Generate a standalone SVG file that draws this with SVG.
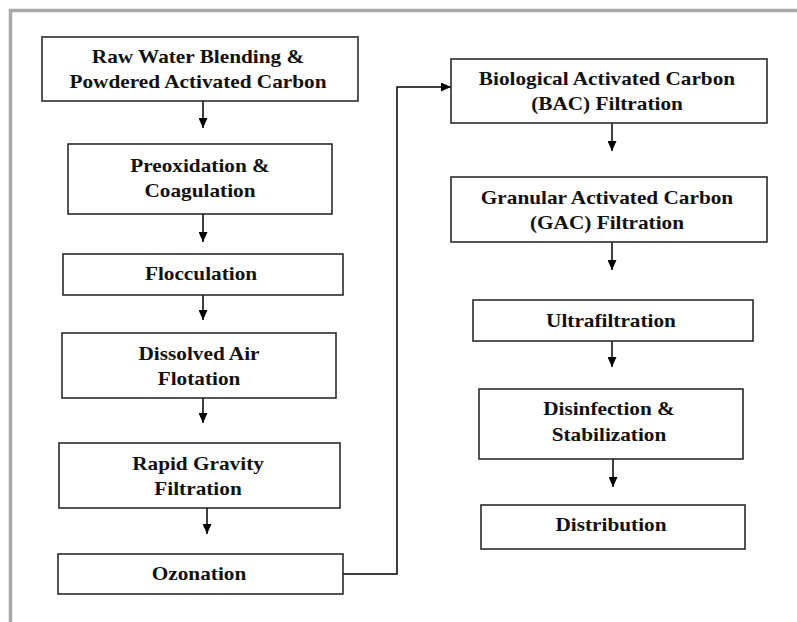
<svg xmlns="http://www.w3.org/2000/svg" width="797" height="622" viewBox="0 0 797 622">
  <style>
    .box { fill: #ffffff; stroke: #2b2b2b; stroke-width: 1.6; }
    .lbl { font-family: "Liberation Serif", "Times New Roman", serif; font-weight: bold; font-size: 18.5px; fill: #111111; text-anchor: middle; }
    .wire { fill: none; stroke: #000000; stroke-width: 1.5; }
    .frame { fill: none; stroke: #a9a9a9; stroke-width: 3.5; }
  </style>
  <defs>
    <marker id="head" markerUnits="userSpaceOnUse" markerWidth="10" markerHeight="9" refX="10" refY="4.5" orient="auto">
      <path d="M0,0 L10,4.5 L0,9 Z" fill="#000000"/>
    </marker>
  </defs>

  <rect x="0" y="0" width="797" height="622" fill="#ffffff"/>
  <!-- page frame (top and left edges) -->
  <path class="frame" d="M10.5,622 V10.5 H797"/>

  <!-- connectors -->
  <g id="connectors">
    <path class="wire" d="M203,101 V128" marker-end="url(#head)"/>
    <path class="wire" d="M203,214 V242" marker-end="url(#head)"/>
    <path class="wire" d="M203,295 V320" marker-end="url(#head)"/>
    <path class="wire" d="M203,398 V423" marker-end="url(#head)"/>
    <path class="wire" d="M207,508 V534" marker-end="url(#head)"/>
    <path class="wire" d="M343,574 H397 V87 H451" marker-end="url(#head)"/>
    <path class="wire" d="M612,123 V151" marker-end="url(#head)"/>
    <path class="wire" d="M612,242 V270" marker-end="url(#head)"/>
    <path class="wire" d="M612,341 V367" marker-end="url(#head)"/>
    <path class="wire" d="M613,459 V487" marker-end="url(#head)"/>
  </g>

  <!-- left column -->
  <g id="raw-water">
    <rect class="box" x="42" y="37" width="316" height="64"/>
    <text class="lbl" transform="translate(198,63) scale(1.15,1)">Raw Water Blending &amp;</text>
    <text class="lbl" transform="translate(198,88) scale(1.15,1)">Powdered Activated Carbon</text>
  </g>
  <g id="preoxidation">
    <rect class="box" x="68" y="144" width="264" height="70"/>
    <text class="lbl" transform="translate(200,172) scale(1.15,1)">Preoxidation &amp;</text>
    <text class="lbl" transform="translate(200,197) scale(1.15,1)">Coagulation</text>
  </g>
  <g id="flocculation">
    <rect class="box" x="63" y="254" width="280" height="41"/>
    <text class="lbl" transform="translate(201,280) scale(1.15,1)">Flocculation</text>
  </g>
  <g id="daf">
    <rect class="box" x="62" y="333" width="274" height="65"/>
    <text class="lbl" transform="translate(199,359.5) scale(1.15,1)">Dissolved Air</text>
    <text class="lbl" transform="translate(199,384.5) scale(1.15,1)">Flotation</text>
  </g>
  <g id="rapid-gravity">
    <rect class="box" x="59" y="443" width="281" height="65"/>
    <text class="lbl" transform="translate(198,470) scale(1.15,1)">Rapid Gravity</text>
    <text class="lbl" transform="translate(198,495) scale(1.15,1)">Filtration</text>
  </g>
  <g id="ozonation">
    <rect class="box" x="58" y="554" width="285" height="40"/>
    <text class="lbl" transform="translate(199,580) scale(1.15,1)">Ozonation</text>
  </g>

  <!-- right column -->
  <g id="bac">
    <rect class="box" x="451" y="59" width="316" height="64"/>
    <text class="lbl" transform="translate(607,85) scale(1.15,1)">Biological Activated Carbon</text>
    <text class="lbl" transform="translate(607,110) scale(1.15,1)">(BAC) Filtration</text>
  </g>
  <g id="gac">
    <rect class="box" x="451" y="177" width="316" height="65"/>
    <text class="lbl" transform="translate(607,203.5) scale(1.15,1)">Granular Activated Carbon</text>
    <text class="lbl" transform="translate(607,228.5) scale(1.15,1)">(GAC) Filtration</text>
  </g>
  <g id="ultrafiltration">
    <rect class="box" x="473" y="300" width="280" height="41"/>
    <text class="lbl" transform="translate(611,326.5) scale(1.15,1)">Ultrafiltration</text>
  </g>
  <g id="disinfection">
    <rect class="box" x="479" y="389" width="264" height="70"/>
    <text class="lbl" transform="translate(609,415) scale(1.15,1)">Disinfection &amp;</text>
    <text class="lbl" transform="translate(609,440.5) scale(1.15,1)">Stabilization</text>
  </g>
  <g id="distribution">
    <rect class="box" x="481" y="505" width="264" height="44"/>
    <text class="lbl" transform="translate(611,530.5) scale(1.15,1)">Distribution</text>
  </g>
</svg>
